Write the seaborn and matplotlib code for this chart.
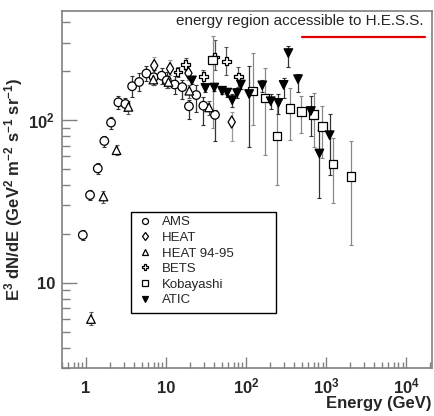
import numpy as np
import pandas as pd
import matplotlib
matplotlib.use("Agg")
import matplotlib.pyplot as plt
from matplotlib.patches import Rectangle
from matplotlib.ticker import LogLocator, FixedLocator, FixedFormatter, NullFormatter
import seaborn as sns

# ---------------- data ----------------
ams_E   = [0.91, 1.12, 1.40, 1.69, 2.05, 2.53, 3.10, 3.76, 4.6, 5.67, 7.0, 8.8, 10.2, 12.8, 15.9, 19.3, 23.8, 29.2, 40.8]
ams_y   = [19.7, 34.7, 50.6, 74.6, 96.8, 129, 126, 162, 172, 194, 184, 188, 176, 166, 160, 122, 143, 123, 108]
ams_lo  = [18.3, 32.3, 47, 69, 89, 118, 114, 140, 152, 175, 165, 168, 157, 146, 136, 102, 113, 93, 75]
ams_hi  = [21.2, 37.3, 54.5, 80.5, 105, 141, 138, 186, 195, 215, 205, 210, 197, 188, 176, 133, 164, 139, 115]

heat_E  = [7.1, 11.2, 19.0, 66.0]
heat_y  = [217, 208, 195, 97.6]
heat_lo = [195, 190, 178, 75]
heat_hi = [245, 235, 215, 112]

h9495_E  = [1.15, 1.65, 2.40, 3.38, 6.93, 10.7, 19.5, 34.4]
h9495_y  = [6.0, 34, 65.5, 121, 178, 172, 152, 120]
h9495_lo = [5.5, 31, 61, 110, 165, 158, 138, 108]
h9495_hi = [6.6, 37, 71, 132, 192, 186, 166, 132]

bets_E  = [14.0, 17.6, 29.2, 40.5, 56.5, 80.0]
bets_y  = [198, 221, 186, 245, 231, 185]
bets_lo = [185, 205, 170, 205, 189, 160]
bets_hi = [212, 240, 205, 310, 282, 212]

koba_E  = [38, 121, 172, 242, 354, 488, 696, 899, 1219, 2042]
koba_y  = [235, 151, 137, 80, 118, 113.6, 109, 91.5, 54, 45.3]
koba_lo = [90, 93, 61, 40, 76, 84, 69, 59, 30.8, 17.1]
koba_hi = [330, 258, 210, 136, 159, 142, 148, 122, 77.3, 75]

atic_E  = [21, 31, 40, 50, 58, 67, 77, 86, 109, 159, 203, 253, 294, 337, 445, 643, 823, 1104]
atic_y  = [176, 158, 159, 152, 148, 133, 147, 166, 145, 164, 131, 128, 165, 259, 179, 114, 62.5, 81]
atic_lo = [168, 150, 151, 145, 140, 120, 138, 155, 69, 150, 118, 110, 137, 213, 150, 80.5, 33.4, 46.4]
atic_hi = [185, 167, 168, 160, 156, 146, 158, 178, 217, 178, 145, 145, 183, 288, 193, 141, 86.9, 110]

series_names = ["AMS", "HEAT", "HEAT 94-95", "BETS", "Kobayashi", "ATIC"]
hess_range = [500, 17000]
hess_level = 323
hess_text = "energy region accessible to H.E.S.S."

x_ticks = [1, 10, 100, 1000, 10000]
x_tick_labels = ["1", "10", r"$\mathbf{10^{2}}$", r"$\mathbf{10^{3}}$", r"$\mathbf{10^{4}}$"]
y_ticks = [10, 100]
y_tick_labels = ["10", r"$\mathbf{10^{2}}$"]

# ---------------- styling ----------------
sns.set_theme(style="ticks")
plt.rcParams["font.family"] = ["Liberation Sans", "DejaVu Sans"]
plt.rcParams["mathtext.fontset"] = "custom"
plt.rcParams["mathtext.rm"] = "Liberation Sans"
plt.rcParams["mathtext.bf"] = "Liberation Sans:bold"
plt.rcParams["mathtext.it"] = "Liberation Sans:italic"

data = {
    "AMS": (ams_E, ams_y, ams_lo, ams_hi),
    "HEAT": (heat_E, heat_y, heat_lo, heat_hi),
    "HEAT 94-95": (h9495_E, h9495_y, h9495_lo, h9495_hi),
    "BETS": (bets_E, bets_y, bets_lo, bets_hi),
    "Kobayashi": (koba_E, koba_y, koba_lo, koba_hi),
    "ATIC": (atic_E, atic_y, atic_lo, atic_hi),
}
rows = []
for name in series_names:
    E, y, lo, hi = data[name]
    for e, v, l, h in zip(E, y, lo, hi):
        rows.append({"experiment": name, "E": e, "flux": v, "lo": l, "hi": h})
df = pd.DataFrame(rows)

markers = {"AMS": "o", "HEAT": "d", "HEAT 94-95": "^", "BETS": "P", "Kobayashi": "s", "ATIC": "v"}
faces = {"AMS": "white", "HEAT": "white", "HEAT 94-95": "white", "BETS": "white", "Kobayashi": "white", "ATIC": "black"}
barcol = {"AMS": "#333333", "HEAT": "#999999", "HEAT 94-95": "#555555", "BETS": "#555555", "Kobayashi": "#888888", "ATIC": "#333333"}

fig = plt.figure(figsize=(4.35, 4.16), dpi=100)
ax = fig.add_axes([62/435, 48/416, 370/435, 357/416])

for name in series_names:
    d = df[df.experiment == name]
    yerr = np.vstack([d.flux - d.lo, d.hi - d.flux])
    ax.errorbar(d.E, d.flux, yerr=yerr, fmt="none", ecolor=barcol[name],
                elinewidth=0.9, capsize=1.5, capthick=0.8, zorder=2)

sns.scatterplot(data=df, x="E", y="flux", hue="experiment", style="experiment",
                hue_order=series_names, style_order=series_names,
                palette=faces, markers=markers, edgecolor="black", linewidth=0.9,
                s=38, ax=ax, zorder=3)

ax.set_xscale("log")
ax.set_yscale("log")
ax.set_xlim(0.5, 2.1e4)
ax.set_ylim(3.0, 470)

ax.xaxis.set_major_locator(FixedLocator(x_ticks))
ax.xaxis.set_major_formatter(FixedFormatter(x_tick_labels))
ax.xaxis.set_minor_locator(LogLocator(base=10, subs=np.arange(2, 10)))
ax.xaxis.set_minor_formatter(NullFormatter())
ax.yaxis.set_major_locator(FixedLocator(y_ticks))
ax.yaxis.set_major_formatter(FixedFormatter(y_tick_labels))
ax.yaxis.set_minor_locator(LogLocator(base=10, subs=np.arange(2, 10)))
ax.yaxis.set_minor_formatter(NullFormatter())

spc = "#808080"
for s in ax.spines.values():
    s.set_color(spc)
    s.set_linewidth(1.2)
ax.tick_params(which="both", direction="in", color=spc, width=1.0)
ax.tick_params(axis="x", which="major", length=8, pad=18, labelsize=12)
ax.tick_params(axis="x", which="minor", length=4)
ax.tick_params(axis="y", which="major", length=11, pad=5, labelsize=12)
ax.tick_params(axis="y", which="minor", length=6)
for lab in ax.get_xticklabels():
    lab.set_fontweight("bold")
    lab.set_verticalalignment("baseline")
for lab in ax.get_yticklabels():
    lab.set_fontweight("bold")

ax.set_xlabel("Energy (GeV)", fontsize=12, fontweight="bold", loc="right", labelpad=0)
ax.set_ylabel(r"$\mathbf{E^{3}\ dN/dE\ (GeV^{2}\ m^{-2}\ s^{-1}\ sr^{-1})}$", fontsize=12)
ax.yaxis.set_label_coords(-0.1, 0.5)

# H.E.S.S. region
ax.plot(hess_range, [hess_level, hess_level], color="#e00000", lw=1.6, zorder=4)
ax.text(0.978, 0.972, hess_text, transform=ax.transAxes, ha="right", va="center", fontsize=11)

# legend
sns.move_legend(ax, "upper left", bbox_to_anchor=(0.163, 0.451), frameon=False, title=None,
                fontsize=9.5, markerscale=0.7, handletextpad=0.3, labelspacing=0.25,
                borderpad=0.2)
ax.add_patch(Rectangle((0.186, 0.154), 0.392, 0.283, transform=ax.transAxes,
                       fill=False, edgecolor="black", lw=1.0, zorder=5))

fig.savefig("out.png", dpi=100)
